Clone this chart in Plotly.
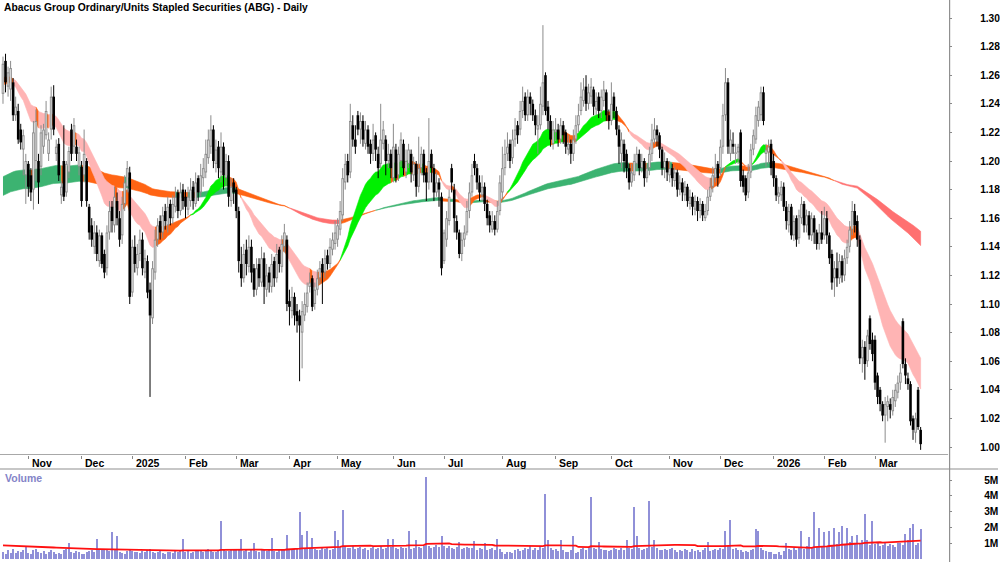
import numpy as np
import pandas as pd
import plotly.graph_objects as go

# ---------------- data ----------------
holidays = ["2024-12-25", "2024-12-26", "2025-01-01", "2025-01-27", "2025-04-18",
            "2025-04-21", "2025-04-25", "2025-06-09", "2025-12-25", "2025-12-26",
            "2026-01-01", "2026-01-26"]

open_ = [
 1.247,1.270,1.252,1.250,1.255,1.232,1.235,1.222,1.208,1.190,
 1.198,1.190,1.180,1.200,1.200,1.196,1.210,1.218,1.205,1.222,1.245,1.205,1.212,1.176,1.200,1.178,1.192,1.222,1.210,1.210,1.196,
 1.196,1.190,1.200,1.168,1.155,1.140,1.150,1.130,1.148,1.135,1.125,1.150,1.168,1.155,1.172,1.160,1.148,1.170,1.182,1.192,
 1.108,1.140,1.125,1.135,1.145,1.122,1.130,1.110,1.090,1.122,1.145,1.158,1.150,1.165,1.155,1.170,1.160,1.168,1.178,1.165,1.180,
 1.175,1.166,1.172,1.182,1.170,1.188,1.178,1.188,1.192,1.202,1.210,1.222,1.198,1.210,1.192,1.210,1.188,1.200,1.172,1.185,
 1.180,1.165,1.128,1.118,1.138,1.126,1.140,1.125,1.110,1.128,1.115,1.132,1.110,1.122,1.112,1.130,1.118,1.138,1.126,1.140,1.145,
 1.102,1.095,1.105,1.095,1.092,1.080,1.092,1.098,1.112,1.118,1.100,1.110,1.118,1.128,1.122,1.134,1.128,1.138,1.142,
 1.145,1.152,1.162,1.185,1.200,1.192,1.225,1.215,1.232,1.222,1.228,1.212,1.222,1.212,1.205,1.218,1.205,1.198,1.212,1.215,1.200,1.205,
 1.188,1.208,1.190,1.200,1.212,1.192,1.198,1.205,1.190,1.198,1.182,1.195,1.205,1.192,1.185,1.205,1.195,1.178,1.185,1.175,
 1.130,1.145,1.158,1.195,1.180,1.158,1.150,1.135,1.145,1.150,1.165,1.178,1.200,1.195,1.185,1.176,1.182,1.170,1.162,1.152,1.158,1.152,1.165,
 1.178,1.195,1.205,1.212,1.202,1.215,1.225,1.222,1.235,1.245,1.232,1.245,1.240,1.232,1.222,1.225,1.238,1.260,1.238,1.228,1.212,
 1.220,1.222,1.215,1.225,1.220,1.208,1.212,1.205,1.215,1.225,1.235,1.242,1.252,1.240,1.245,1.250,1.236,1.245,1.235,1.242,1.248,1.232,
 1.228,1.245,1.235,1.222,1.205,1.212,1.205,1.195,1.185,1.190,1.198,1.205,1.195,1.200,1.188,1.195,1.205,1.215,1.222,1.218,1.208,1.195,1.200,
 1.190,1.195,1.186,1.192,1.180,1.185,1.176,1.182,1.170,1.175,1.166,1.172,1.165,1.170,1.160,1.165,1.175,1.182,1.188,1.198,
 1.195,1.210,1.232,1.255,1.205,1.212,1.205,1.206,1.220,1.190,1.188,1.178,1.192,1.208,1.215,1.228,1.232,1.248,1.205,1.206,1.212,
 1.200,1.188,1.175,1.176,1.182,1.168,1.155,1.168,1.148,1.160,1.146,1.160,1.170,1.155,1.162,1.148,1.160,1.150,1.142,1.150,
 1.148,1.160,1.148,1.135,1.118,1.125,1.118,1.130,1.120,1.132,1.140,1.152,1.165,1.158,1.145,1.062,1.070,1.060,1.090,1.075,
 1.075,1.050,1.040,1.030,1.022,1.028,1.030,1.025,1.032,1.038,1.045,1.088,1.058,1.048,1.044,1.020,1.010,1.040,1.012]

high = [
 1.273,1.275,1.266,1.270,1.258,1.245,1.240,1.226,1.222,1.205,
 1.200,1.195,1.228,1.236,1.205,1.225,1.226,1.242,1.220,1.252,1.253,1.215,1.216,1.186,1.225,1.200,1.210,1.226,1.230,1.215,1.210,
 1.200,1.222,1.202,1.170,1.160,1.158,1.155,1.152,1.150,1.138,1.155,1.172,1.172,1.182,1.178,1.165,1.175,1.190,1.200,1.196,
 1.145,1.148,1.142,1.152,1.150,1.138,1.134,1.115,1.130,1.152,1.160,1.162,1.168,1.170,1.175,1.173,1.176,1.182,1.180,1.185,1.184,
 1.180,1.182,1.188,1.186,1.192,1.190,1.198,1.202,1.215,1.222,1.232,1.225,1.215,1.214,1.220,1.213,1.205,1.204,1.188,1.188,
 1.182,1.168,1.140,1.142,1.145,1.148,1.145,1.128,1.132,1.132,1.140,1.136,1.128,1.126,1.135,1.133,1.142,1.140,1.148,1.156,1.148,
 1.110,1.112,1.108,1.100,1.096,1.102,1.108,1.115,1.122,1.120,1.115,1.124,1.130,1.132,1.138,1.138,1.146,1.150,1.158,
 1.160,1.172,1.195,1.205,1.205,1.240,1.232,1.225,1.235,1.234,1.232,1.228,1.225,1.215,1.226,1.220,1.210,1.240,1.228,1.218,1.212,1.208,
 1.226,1.212,1.210,1.220,1.215,1.208,1.212,1.208,1.203,1.200,1.217,1.210,1.208,1.195,1.230,1.208,1.198,1.192,1.188,1.178,
 1.152,1.165,1.180,1.198,1.184,1.162,1.152,1.150,1.155,1.172,1.185,1.198,1.205,1.198,1.190,1.190,1.185,1.173,1.165,1.165,1.162,1.172,1.190,
 1.210,1.215,1.220,1.215,1.222,1.230,1.228,1.242,1.252,1.248,1.250,1.248,1.243,1.236,1.232,1.252,1.295,1.262,1.242,1.232,1.228,
 1.230,1.226,1.230,1.228,1.222,1.218,1.215,1.222,1.232,1.240,1.255,1.258,1.260,1.254,1.258,1.252,1.248,1.248,1.250,1.256,1.250,1.236,
 1.255,1.248,1.238,1.225,1.220,1.215,1.208,1.198,1.198,1.205,1.210,1.208,1.205,1.202,1.198,1.210,1.226,1.230,1.225,1.220,1.210,1.206,1.202,
 1.200,1.198,1.196,1.194,1.190,1.188,1.186,1.184,1.180,1.178,1.176,1.175,1.174,1.172,1.170,1.180,1.188,1.196,1.205,1.200,
 1.215,1.240,1.265,1.258,1.222,1.220,1.212,1.212,1.222,1.194,1.190,1.198,1.212,1.222,1.238,1.242,1.252,1.252,1.212,1.215,1.215,
 1.205,1.190,1.182,1.186,1.185,1.172,1.170,1.170,1.162,1.162,1.166,1.175,1.172,1.166,1.165,1.164,1.162,1.152,1.156,1.165,
 1.168,1.165,1.150,1.138,1.130,1.136,1.135,1.134,1.138,1.145,1.158,1.172,1.170,1.162,1.148,1.075,1.074,1.082,1.092,1.080,
 1.078,1.052,1.042,1.032,1.035,1.036,1.034,1.040,1.044,1.050,1.058,1.090,1.062,1.052,1.046,1.022,1.024,1.042,1.014]

low = [
 1.240,1.248,1.245,1.242,1.228,1.228,1.212,1.208,1.190,1.170,
 1.175,1.172,1.166,1.186,1.170,1.190,1.205,1.215,1.200,1.215,1.218,1.200,1.186,1.170,1.172,1.175,1.188,1.200,1.205,1.200,1.190,
 1.168,1.185,1.168,1.145,1.140,1.135,1.130,1.126,1.125,1.118,1.120,1.145,1.150,1.150,1.155,1.140,1.142,1.165,1.178,1.100,
 1.105,1.122,1.120,1.130,1.120,1.118,1.104,1.035,1.086,1.117,1.140,1.145,1.146,1.152,1.150,1.155,1.156,1.164,1.160,1.162,1.166,
 1.160,1.162,1.168,1.166,1.168,1.172,1.175,1.182,1.188,1.198,1.205,1.195,1.192,1.188,1.185,1.180,1.182,1.168,1.168,1.170,
 1.160,1.122,1.112,1.115,1.120,1.122,1.115,1.105,1.106,1.112,1.112,1.100,1.105,1.108,1.108,1.112,1.115,1.122,1.122,1.136,1.095,
 1.085,1.090,1.085,1.080,1.046,1.055,1.088,1.094,1.108,1.095,1.096,1.106,1.114,1.100,1.118,1.124,1.125,1.134,1.138,
 1.140,1.148,1.158,1.180,1.185,1.188,1.210,1.205,1.218,1.212,1.210,1.208,1.205,1.198,1.200,1.200,1.188,1.195,1.208,1.190,1.195,1.188,
 1.185,1.185,1.186,1.196,1.190,1.188,1.195,1.185,1.186,1.175,1.178,1.190,1.185,1.172,1.180,1.185,1.172,1.175,1.168,1.120,
 1.128,1.140,1.155,1.178,1.150,1.145,1.132,1.130,1.140,1.148,1.160,1.175,1.190,1.180,1.172,1.172,1.165,1.155,1.150,1.150,1.148,1.150,1.162,
 1.172,1.190,1.200,1.195,1.198,1.210,1.212,1.218,1.230,1.228,1.228,1.232,1.228,1.218,1.205,1.222,1.232,1.232,1.222,1.210,1.208,
 1.214,1.210,1.212,1.212,1.205,1.204,1.198,1.200,1.212,1.220,1.232,1.238,1.235,1.236,1.240,1.232,1.232,1.230,1.230,1.238,1.228,1.222,
 1.225,1.230,1.218,1.198,1.195,1.192,1.188,1.180,1.182,1.186,1.194,1.190,1.192,1.182,1.185,1.190,1.200,1.212,1.210,1.202,1.190,1.188,1.186,
 1.185,1.182,1.182,1.175,1.176,1.172,1.172,1.168,1.166,1.162,1.162,1.158,1.160,1.158,1.158,1.162,1.172,1.178,1.185,1.182,
 1.190,1.205,1.228,1.205,1.200,1.205,1.198,1.198,1.182,1.178,1.172,1.174,1.188,1.204,1.212,1.224,1.228,1.225,1.196,1.198,1.190,
 1.182,1.172,1.170,1.172,1.165,1.152,1.150,1.145,1.144,1.140,1.142,1.156,1.150,1.150,1.145,1.144,1.142,1.138,1.138,1.142,
 1.145,1.142,1.128,1.110,1.105,1.112,1.114,1.115,1.116,1.128,1.136,1.148,1.150,1.140,1.058,1.052,1.047,1.056,1.068,1.060,
 1.040,1.030,1.025,1.018,1.003,1.018,1.020,1.022,1.028,1.034,1.040,1.055,1.044,1.040,1.015,1.005,1.003,1.012,0.998]

close = [
 1.268,1.255,1.262,1.265,1.232,1.238,1.215,1.213,1.218,1.200,
 1.182,1.178,1.220,1.228,1.185,1.220,1.222,1.235,1.215,1.245,1.222,1.210,1.190,1.182,1.175,1.198,1.207,1.205,1.225,1.205,1.206,
 1.172,1.205,1.172,1.150,1.145,1.150,1.135,1.148,1.128,1.122,1.150,1.165,1.158,1.175,1.160,1.145,1.170,1.185,1.195,1.105,
 1.140,1.128,1.135,1.145,1.125,1.132,1.108,1.092,1.125,1.145,1.155,1.150,1.162,1.158,1.168,1.160,1.170,1.175,1.165,1.178,1.172,
 1.168,1.175,1.180,1.172,1.185,1.178,1.190,1.195,1.205,1.215,1.222,1.200,1.208,1.195,1.210,1.190,1.200,1.175,1.182,1.178,
 1.165,1.130,1.118,1.135,1.128,1.140,1.122,1.110,1.125,1.118,1.132,1.112,1.120,1.115,1.128,1.118,1.135,1.128,1.142,1.150,1.100,
 1.098,1.105,1.092,1.088,1.085,1.095,1.100,1.108,1.115,1.098,1.110,1.118,1.125,1.122,1.132,1.128,1.140,1.145,1.150,
 1.155,1.165,1.188,1.198,1.190,1.228,1.215,1.210,1.222,1.228,1.215,1.222,1.210,1.205,1.215,1.208,1.195,1.215,1.222,1.200,1.205,1.195,
 1.210,1.188,1.205,1.215,1.195,1.200,1.208,1.192,1.198,1.182,1.195,1.205,1.190,1.185,1.200,1.195,1.178,1.185,1.180,1.125,
 1.150,1.160,1.175,1.185,1.160,1.150,1.135,1.145,1.150,1.165,1.178,1.190,1.195,1.185,1.178,1.182,1.170,1.160,1.155,1.158,1.152,1.165,1.185,
 1.195,1.205,1.210,1.200,1.215,1.222,1.218,1.235,1.242,1.232,1.245,1.240,1.232,1.225,1.225,1.240,1.255,1.235,1.228,1.215,1.222,
 1.222,1.215,1.225,1.218,1.210,1.212,1.205,1.215,1.225,1.232,1.245,1.250,1.240,1.248,1.252,1.238,1.242,1.235,1.245,1.250,1.232,1.228,
 1.240,1.235,1.222,1.210,1.215,1.200,1.195,1.185,1.192,1.200,1.205,1.195,1.200,1.188,1.195,1.205,1.215,1.222,1.218,1.208,1.195,1.200,1.192,
 1.195,1.188,1.192,1.180,1.185,1.178,1.182,1.172,1.175,1.168,1.172,1.165,1.170,1.162,1.165,1.175,1.182,1.190,1.195,1.188,
 1.210,1.232,1.255,1.210,1.215,1.210,1.206,1.210,1.186,1.182,1.176,1.192,1.208,1.218,1.232,1.238,1.248,1.228,1.208,1.210,1.195,
 1.188,1.176,1.178,1.182,1.168,1.158,1.165,1.148,1.158,1.145,1.162,1.170,1.155,1.162,1.148,1.160,1.150,1.142,1.150,1.145,
 1.160,1.148,1.132,1.115,1.125,1.118,1.130,1.120,1.132,1.140,1.152,1.165,1.155,1.145,1.062,1.070,1.058,1.078,1.072,1.065,
 1.045,1.035,1.030,1.022,1.030,1.032,1.026,1.035,1.040,1.045,1.052,1.058,1.050,1.044,1.018,1.012,1.020,1.014,1.002]

volume_m = [
 0.45,0.35,0.55,0.40,0.62,0.38,0.50,0.45,0.55,0.80,
 0.40,0.35,0.58,0.62,0.45,0.38,0.52,0.30,0.42,0.55,0.48,0.35,0.40,0.30,0.58,0.62,1.00,0.45,0.38,0.50,0.42,
 0.35,0.30,0.45,0.52,0.60,0.48,1.30,0.55,0.62,0.58,0.65,0.50,1.70,0.62,1.45,0.45,0.40,0.35,0.52,0.58,
 0.52,0.48,0.45,0.38,0.50,0.42,0.55,0.62,0.48,0.40,0.45,0.52,0.38,0.35,0.48,0.42,0.38,0.50,0.45,0.55,1.30,
 0.45,0.52,0.40,0.48,0.55,0.60,0.52,0.42,0.50,0.62,0.55,0.48,0.45,0.58,2.40,0.62,0.52,0.50,0.65,0.55,
 0.60,0.55,1.30,0.52,0.58,0.48,0.55,1.00,0.52,0.48,0.58,0.55,0.50,0.58,1.35,0.52,0.48,0.55,0.60,0.65,1.50,
 0.58,0.65,0.62,0.70,3.00,1.55,0.70,1.75,0.72,1.35,0.65,0.60,0.55,0.68,0.62,0.72,0.58,0.65,1.80,
 1.20,0.75,3.10,0.80,0.68,0.72,0.85,0.62,0.70,0.78,0.65,0.72,0.60,0.68,0.75,0.62,0.70,0.80,0.65,0.72,1.30,0.75,
 1.30,0.70,0.62,0.78,0.68,0.72,1.75,0.65,0.70,1.20,0.75,0.68,0.80,5.20,0.85,0.72,0.78,0.90,0.75,1.45,
 0.80,0.72,0.85,0.70,0.65,0.78,1.10,0.62,0.70,0.75,0.68,0.72,1.15,0.60,0.70,0.65,1.00,0.55,0.62,0.70,0.58,1.30,0.65,
 0.45,0.30,0.42,0.48,0.40,0.55,0.62,0.50,0.58,0.72,0.65,0.80,0.60,0.70,0.55,0.85,0.68,4.10,1.20,0.72,0.60,
 0.65,0.50,1.20,0.58,0.45,0.42,0.55,1.45,0.40,0.48,0.62,0.70,0.60,0.75,3.90,0.68,0.62,1.10,0.65,0.58,0.55,0.50,
 0.60,0.70,0.65,0.55,0.72,0.60,1.20,0.68,0.62,3.30,1.45,0.70,0.58,0.62,0.68,3.65,0.75,1.20,0.72,0.60,0.55,0.65,0.58,
 0.62,0.70,0.55,0.48,0.60,0.52,0.65,0.58,0.45,0.62,0.50,0.55,0.48,0.60,0.70,1.10,0.52,0.58,0.65,0.60,
 0.72,0.65,1.75,0.80,2.45,0.62,0.70,0.55,0.60,0.48,0.52,0.45,0.58,0.62,1.90,1.75,0.68,0.55,0.50,0.45,0.48,
 0.30,0.35,0.42,0.28,0.50,1.00,0.62,0.55,0.70,0.60,0.72,1.75,0.65,0.80,1.40,0.68,3.00,0.75,2.00,0.80,
 1.70,0.85,1.80,0.90,2.00,0.95,1.70,2.10,0.88,2.00,1.10,1.45,0.95,1.50,1.05,1.20,2.85,1.20,0.90,2.40,
 0.95,1.00,0.85,0.90,1.10,0.80,0.95,0.88,0.75,1.00,1.05,0.90,1.60,1.20,2.00,2.20,0.90,1.05,1.90]

month_labels = ["Nov", "Dec", "2025", "Feb", "Mar", "Apr", "May", "Jun", "Jul",
                "Aug", "Sep", "Oct", "Nov", "Dec", "2026", "Feb", "Mar"]
price_ticks = [1.00, 1.02, 1.04, 1.06, 1.08, 1.10, 1.12, 1.14, 1.16, 1.18,
               1.20, 1.22, 1.24, 1.26, 1.28, 1.30]
volume_ticks = [1, 2, 3, 4, 5]
volume_tick_labels = ["1M", "2M", "3M", "4M", "5M"]

# ribbon averages (fast, slow) and their values at the first bar
short_periods = [20, 34]
short_seeds = [1.252, 1.258]
long_periods = [150, 200]
long_seeds = [1.188, 1.175]
volume_ma_period = 60
volume_ma_seed = 0.87

title_text = "Abacus Group Ordinary/Units Stapled Securities (ABG) - Daily"

# ---------------- derived series ----------------
n = len(close)
dates = pd.bdate_range("2024-10-18", "2026-06-30")
dates = dates[~dates.isin(pd.to_datetime(holidays))][:n]
idx = np.arange(n)
month_starts = [i for i in range(1, n) if dates[i].month != dates[i - 1].month]


def ema(vals, period, seed):
    k = 2.0 / (period + 1)
    v = seed
    out = []
    for cval in vals:
        v += k * (cval - v)
        out.append(v)
    return np.array(out)


short_fast, short_slow = [ema(close, p, s) for p, s in zip(short_periods, short_seeds)]
long_fast, long_slow = [ema(close, p, s) for p, s in zip(long_periods, long_seeds)]

padded = np.concatenate([np.full(volume_ma_period - 1, volume_ma_seed), volume_m])
vol_ma = pd.Series(padded).rolling(volume_ma_period).mean().values[volume_ma_period - 1:]

# ---------------- styling ----------------
FONT = "Liberation Sans, Arial, Helvetica, sans-serif"
W, H = 1000, 562
PLOT_RIGHT = 950.0
X0_PX, DX_PX = 3.0, 2.54
PRICE_BOTTOM_PX = 455.0
VOL_TOP_PX = 469.0

x_lo = (0 - X0_PX) / DX_PX
x_hi = (PLOT_RIGHT - X0_PX) / DX_PX
p_top = 1.30 + 18.0 / 1430.0
p_bot = 1.30 - (PRICE_BOTTOM_PX - 18.0) / 1430.0
v_top = (559.1 - VOL_TOP_PX) / 15.8
v_bot = (559.1 - H) / 15.8

SHORT_COLORS = {0: "#00f000", 1: "#ffb4b4", 2: "#ff6414"}
LONG_COLORS = {0: "#3cb371", 1: "#ff7070", 2: "#ff6414"}

fig = go.Figure()


def add_band(fast, slow, slope_line, colors):
    upper = np.maximum(fast, slow)
    lower = np.minimum(fast, slow)
    slope = np.diff(slope_line, prepend=slope_line[0] - (slope_line[1] - slope_line[0]))
    state = np.where((fast > slow) & (slope > 0), 0,
                     np.where((fast < slow) & (slope < 0), 1, 2))
    start = 0
    for i in range(1, n + 1):
        if i == n or state[i] != state[start]:
            a, e = start, min(i, n - 1)
            xs = list(range(a, e + 1)) + list(range(e, a - 1, -1))
            ys = list(upper[a:e + 1]) + list(lower[a:e + 1][::-1])
            col = colors[int(state[start])]
            fig.add_trace(go.Scatter(x=xs, y=ys, mode="lines", fill="toself", fillcolor=col,
                                     line=dict(width=0.6, color=col), hoverinfo="skip",
                                     showlegend=False, xaxis="x", yaxis="y"))
            start = i


add_band(long_fast, long_slow, long_slow, LONG_COLORS)
add_band(short_fast, short_slow, short_fast, SHORT_COLORS)


def segs(xs, a, b):
    X, Y = [], []
    for x, y0, y1 in zip(xs, a, b):
        X += [x, x, None]
        Y += [y0, y1, None]
    return X, Y


o = np.array(open_); c = np.array(close); hi = np.array(high); lo = np.array(low)
upm = c >= o
dnm = ~upm
for mask, col in ((upm, "#8c8c8c"), (dnm, "#000000")):
    X, Y = segs(idx[mask], lo[mask], hi[mask])
    fig.add_trace(go.Scatter(x=X, y=Y, mode="lines", line=dict(color=col, width=1),
                             hoverinfo="skip", showlegend=False, xaxis="x", yaxis="y"))
X, Y = segs(idx[upm], o[upm], c[upm])
fig.add_trace(go.Scatter(x=X, y=Y, mode="lines", line=dict(color="#8c8c8c", width=2.6),
                         hoverinfo="skip", showlegend=False, xaxis="x", yaxis="y"))
X, Y = segs(idx[upm], o[upm] + 0.0007, c[upm] - 0.0007)
fig.add_trace(go.Scatter(x=X, y=Y, mode="lines", line=dict(color="#e8e8e8", width=0.9),
                         hoverinfo="skip", showlegend=False, xaxis="x", yaxis="y"))
X, Y = segs(idx[dnm], o[dnm], c[dnm])
fig.add_trace(go.Scatter(x=X, y=Y, mode="lines", line=dict(color="#000000", width=2.6),
                         hoverinfo="skip", showlegend=False, xaxis="x", yaxis="y"))

fig.add_trace(go.Bar(x=idx, y=volume_m, width=0.42, marker=dict(color="#9090d8", line=dict(width=0)),
                     hoverinfo="skip", showlegend=False, xaxis="x2", yaxis="y2"))
fig.add_trace(go.Scatter(x=idx, y=vol_ma, mode="lines", line=dict(color="#ff1010", width=1.8),
                         hoverinfo="skip", showlegend=False, xaxis="x2", yaxis="y2"))


def py(px):
    return 1 - px / H


dom_x = [0, PLOT_RIGHT / W]
tick_font = dict(family=FONT, size=10.2, weight="bold", color="#000000")
fig.update_layout(
    width=W, height=H, margin=dict(l=0, r=0, t=0, b=0),
    paper_bgcolor="white", plot_bgcolor="white",
    font=dict(family=FONT, size=10, color="#000000"),
    bargap=0,
    xaxis=dict(domain=dom_x, range=[x_lo, x_hi], anchor="y", showgrid=False, zeroline=False,
               tickmode="array", tickvals=month_starts, showticklabels=False,
               ticks="outside", ticklen=3, tickcolor="#888888", showline=False),
    yaxis=dict(domain=[py(PRICE_BOTTOM_PX), 1], range=[p_bot, p_top], side="right", anchor="x",
               showgrid=False, zeroline=False, tickmode="array", tickvals=price_ticks,
               ticktext=[f"{v:.2f}" for v in price_ticks], ticks="outside", ticklen=3,
               tickcolor="#888888", ticklabelstandoff=26, tickfont=tick_font, showline=False),
    xaxis2=dict(domain=dom_x, range=[x_lo, x_hi], anchor="y2", matches="x", showgrid=False,
                zeroline=False, showticklabels=False, ticks="", showline=False),
    yaxis2=dict(domain=[0, py(VOL_TOP_PX)], range=[v_bot, v_top], side="right", anchor="x2",
                showgrid=False, zeroline=False, tickmode="array", tickvals=volume_ticks,
                ticktext=volume_tick_labels, ticks="outside", ticklen=3, tickcolor="#888888",
                ticklabelstandoff=30, tickfont=tick_font, showline=False),
)

shapes = [
    dict(type="line", xref="paper", yref="paper", x0=0, x1=PLOT_RIGHT / W,
         y0=py(PRICE_BOTTOM_PX - 0.5), y1=py(PRICE_BOTTOM_PX - 0.5), line=dict(color="#a8a8a8", width=1.2)),
    dict(type="line", xref="paper", yref="paper", x0=0, x1=1,
         y0=py(VOL_TOP_PX), y1=py(VOL_TOP_PX), line=dict(color="#909090", width=1.2)),
    dict(type="line", xref="paper", yref="paper", x0=PLOT_RIGHT / W + 0.0015, x1=PLOT_RIGHT / W + 0.0015,
         y0=0, y1=1, line=dict(color="#909090", width=1.2)),
]
annotations = [
    dict(text=title_text, xref="paper", yref="paper", x=2 / W, y=py(8), xanchor="left",
         yanchor="middle", showarrow=False, font=dict(family=FONT, size=10.3, weight="bold", color="#000000")),
    dict(text="Volume", xref="paper", yref="paper", x=3 / W, y=py(478), xanchor="left",
         yanchor="middle", showarrow=False, font=dict(family=FONT, size=10.5, weight="bold", color="#8484c8")),
]
for pos, lab in zip(month_starts, month_labels):
    annotations.append(dict(text=lab, xref="x", yref="paper", x=pos + 0.6, y=py(462.5),
                            xanchor="left", yanchor="middle", showarrow=False,
                            font=dict(family=FONT, size=10.5, weight="bold", color="#000000")))
fig.update_layout(shapes=shapes, annotations=annotations)

fig.write_html("out.html")
